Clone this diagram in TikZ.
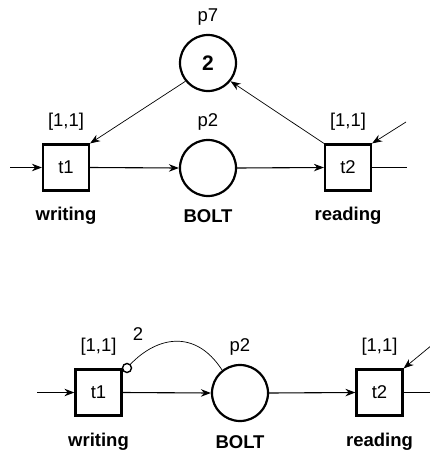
\documentclass[tikz,border=0pt]{standalone}
\usepackage{fontspec}
\setmainfont{Liberation Sans}
\usetikzlibrary{arrows.meta}
\begin{document}
\begin{tikzpicture}[x=1pt,y=-1pt,
  place/.style={circle, draw, line width=2.2pt, minimum size=56pt, inner sep=0pt, font=\fontsize{21}{24}\selectfont},
  trans/.style={rectangle, draw, line width=2.2pt, minimum size=46pt, inner sep=0pt, font=\fontsize{18.5}{22}\selectfont},
  lbl/.style={inner sep=0pt, font=\fontsize{18.5}{22}\selectfont},
  caption/.style={inner sep=0pt, font=\fontsize{18.5}{22}\selectfont\bfseries},
  arc/.style={-{Stealth[length=10pt,width=7.5pt]}, line width=1.1pt},
  thin arc/.style={-{Stealth[length=10pt,width=7.5pt]}, line width=0.7pt},
  inhib/.style={circle, draw, line width=1.4pt, fill=white, minimum size=9pt, inner sep=0pt}]
\useasboundingbox (0,0) rectangle (430,453);

% upper net: writer and reader sharing BOLT, guarded by p7
\node[place] (p7) at (208,63) {\bfseries 2};
\node[lbl] (p7l) at (208,17) {p7};
\node[trans] (t1) at (66,167.5) {t1};
\node[lbl] (t1r) at (66,122) {[1,1]};
\node[caption] (t1n) at (66,216) {writing};
\node[place] (p2) at (208,168) {};
\node[lbl] (p2l) at (208,122) {p2};
\node[caption] (p2n) at (208,216) {BOLT};
\node[trans] (t2) at (348,167.5) {t2};
\node[lbl] (t2r) at (348,122) {[1,1]};
\node[caption] (t2n) at (348,216) {reading};

\coordinate (in1) at (10,167.5);
\coordinate (out1) at (407,167.5);
\coordinate (in2) at (406,122);

\draw[arc] (in1) -- (t1.west);
\draw[arc] (t1.east) -- (p2.west);
\draw[arc] (p2.east) -- (t2.west);
\draw[line width=1.1pt] (t2.east) -- (out1);
\draw[thin arc] (in2) -- (t2.north east);
\draw[thin arc] (p7.219) -- (t1.north east);
\draw[thin arc] (t2.north west) -- (p7.-39);

% lower net: inhibitor arc with weight 2 from BOLT to writing
\node[trans] (t1b) at (98.5,392.5) {t1};
\node[lbl] (t1br) at (98.5,347) {[1,1]};
\node[caption] (t1bn) at (98.5,442) {writing};
\node[place] (p2b) at (240,393) {};
\node[lbl] (p2bl) at (240,347) {p2};
\node[caption] (p2bn) at (240,442) {BOLT};
\node[trans] (t2b) at (379.5,392.5) {t2};
\node[lbl] (t2br) at (379.5,347) {[1,1]};
\node[caption] (t2bn) at (379.5,442) {reading};

\coordinate (in3) at (37,392.5);
\coordinate (out2) at (430,392.5);
\coordinate (in4) at (432,345);

\draw[arc] (in3) -- (t1b.west);
\draw[arc] (t1b.east) -- (p2b.west);
\draw[arc] (p2b.east) -- (t2b.west);
\draw[line width=1.1pt] (t2b.east) -- (out2);
\draw[thin arc] (in4) -- (t2b.north east);

\coordinate (inhpos) at (127,368);
\draw[line width=0.7pt] (inhpos) .. controls (155,336) and (195,328) .. (p2b.128);
\node[inhib] (inh) at (inhpos) {};
\node[lbl] (w2) at (138,334) {2};
\end{tikzpicture}
\end{document}
